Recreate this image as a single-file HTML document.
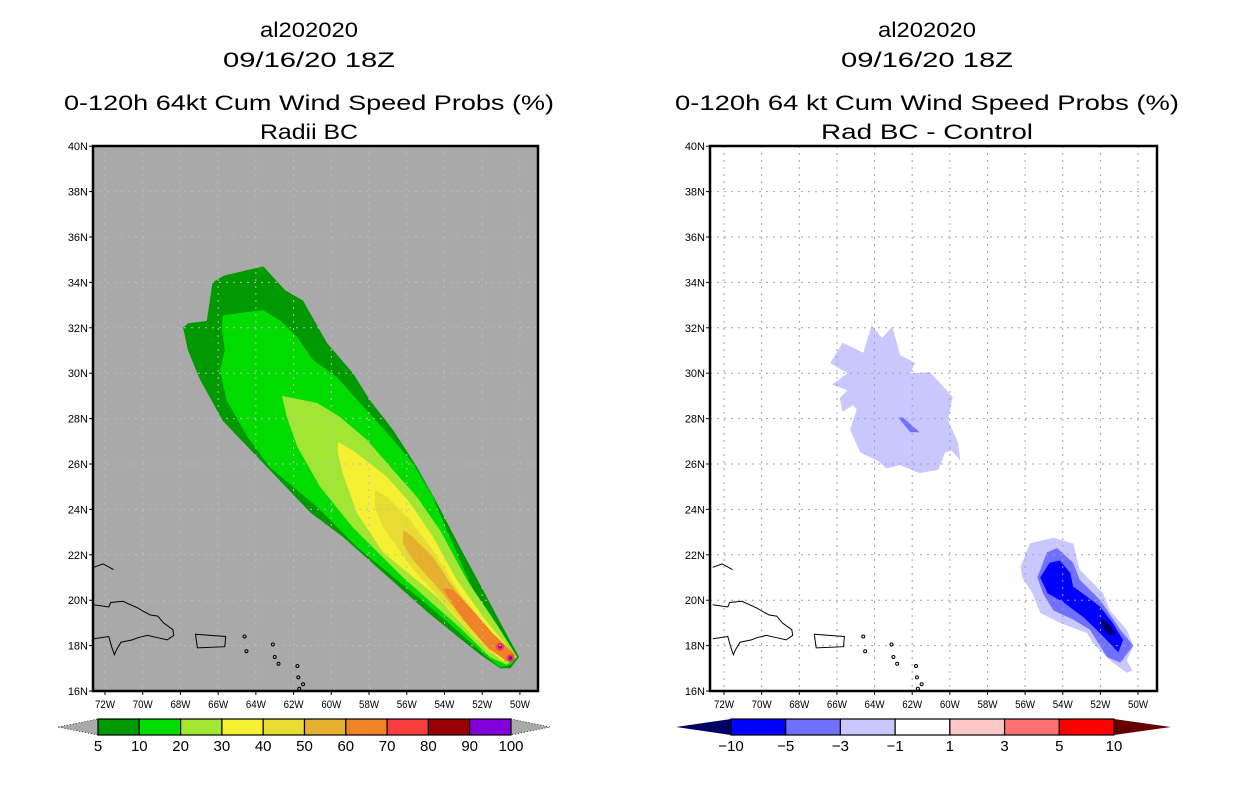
<!DOCTYPE html>
<html><head><meta charset="utf-8"><style>
html,body{margin:0;padding:0;background:#fff;}
svg{display:block;font-family:"Liberation Sans",sans-serif;}
</style></head><body>
<svg id="root" width="1236" height="800" viewBox="0 0 1236 800" xmlns="http://www.w3.org/2000/svg">
<rect width="1236" height="800" fill="#fff"/>
</svg>
<script>
// ---- data ----
const lonTicks=[-72,-70,-68,-66,-64,-62,-60,-58,-56,-54,-52,-50];
const latTicks=[16,18,20,22,24,26,28,30,32,34,36,38,40];
const leftLevels=["5","10","20","30","40","50","60","70","80","90","100"];
const leftColors=["#009900","#00dc00","#a0e632","#f5f032","#e6dc32","#e6af2d","#f08228","#fa3c3c","#960000","#8200dc"];
const rightLevels=["-10","-5","-3","-1","1","3","5","10"];
const rightColors=["#0000ff","#7070ff","#c8c8ff","#ffffff","#ffc8c8","#ff7070","#ff0000"];
const p5=[[-67.86,32.0],[-67.6,32.2],[-66.6,32.3],[-66.3,34.0],[-65.7,34.3],[-63.6,34.7],[-62.45,33.65],[-61.5,33.2],[-60.23,31.33],[-58.85,30.0],[-57.95,28.8],[-56.73,27.5],[-55.46,25.87],[-54.4,24.28],[-53.18,22.34],[-51.96,20.45],[-50.9,18.8],[-50.05,17.5],[-50.5,17.0],[-51.05,17.0],[-52.1,17.6],[-54.8,19.4],[-59.4,22.8],[-61.1,23.85],[-64.15,26.5],[-65.75,27.9],[-66.95,29.7],[-67.6,31.0]];
const p10=[[-65.75,32.55],[-64.85,32.65],[-63.62,32.78],[-62.72,32.34],[-61.82,31.6],[-60.97,30.58],[-59.7,29.83],[-58.48,28.69],[-57.05,27.37],[-55.67,26.04],[-54.61,24.55],[-53.87,23.09],[-52.49,20.45],[-51.6,19.4],[-50.15,17.5],[-50.5,17.15],[-51.05,17.05],[-51.95,17.65],[-54.4,19.45],[-58.65,22.35],[-60.75,24.1],[-63.25,25.85],[-64.45,27.2],[-65.55,28.8],[-65.9,30.15],[-65.65,31.0],[-65.8,32.0]];
const p20=[[-62.62,29.0],[-60.76,28.69],[-59.54,28.07],[-58.11,27.06],[-56.73,25.74],[-55.46,24.55],[-54.24,23.09],[-52.81,20.89],[-51.2,18.9],[-50.15,17.5],[-50.7,17.15],[-51.6,17.5],[-53.2,18.8],[-56.2,21.0],[-58.85,23.2],[-60.6,25.0],[-61.8,26.75],[-62.35,28.05]];
const p30=[[-59.65,26.97],[-58.85,26.6],[-57.05,25.43],[-55.83,24.28],[-54.61,22.78],[-53.34,20.89],[-51.8,19.1],[-50.35,17.65],[-50.9,17.3],[-52.3,18.25],[-54.4,20.15],[-57.25,22.1],[-58.65,23.85],[-59.4,25.6],[-59.65,26.5]];
const p40=[[-57.68,24.85],[-57.05,24.55],[-55.83,23.53],[-54.61,22.2],[-53.55,20.76],[-52.0,18.9],[-50.7,17.6],[-51.6,17.65],[-53.55,19.45],[-55.65,21.35],[-57.25,23.2],[-57.7,24.1]];
const p50=[[-56.2,23.09],[-55.67,22.78],[-54.61,21.9],[-53.71,20.76],[-51.8,18.75],[-50.9,17.65],[-51.6,17.8],[-53.0,19.15],[-54.4,20.6],[-55.65,21.75],[-56.2,22.5]];
const p60=[[-54.1,20.55],[-53.55,20.45],[-52.65,19.7],[-51.45,18.55],[-50.25,17.6],[-50.7,17.3],[-51.75,17.95],[-53.0,19.15],[-53.7,20.0]];
const peaks=[[-51.05,17.95],[-50.5,17.45]];
const d1a=[[-66.35,30.45],[-65.7,31.35],[-64.6,30.9],[-64.15,32.1],[-63.6,31.55],[-63.05,32.05],[-62.65,30.8],[-61.85,30.45],[-62.1,30.0],[-61.05,30.05],[-59.85,28.95],[-60.1,27.95],[-59.55,26.9],[-59.45,26.15],[-59.9,26.6],[-60.25,26.5],[-60.6,25.75],[-61.6,25.6],[-62.65,25.95],[-63.35,25.8],[-63.85,26.15],[-64.75,26.5],[-65.3,27.5],[-64.95,28.4],[-65.15,28.6],[-65.7,28.3],[-65.85,28.9],[-65.45,29.25],[-66.25,29.5],[-65.45,30.0]];
const d3a=[[-62.75,28.05],[-62.5,28.05],[-61.6,27.4],[-62.1,27.4]];
const d1b=[[-56.25,21.45],[-55.75,22.5],[-54.5,22.75],[-53.45,22.5],[-53.1,21.35],[-51.85,20.3],[-51.5,19.55],[-50.6,18.7],[-50.25,18.0],[-50.6,17.35],[-50.3,16.9],[-50.6,16.8],[-51.35,17.25],[-52.4,18.1],[-52.7,18.55],[-54.15,19.0],[-55.2,19.45],[-55.6,20.3],[-56.15,21.0]];
const d3b=[[-55.35,21.0],[-54.85,22.1],[-54.3,22.3],[-53.45,21.65],[-53.1,20.9],[-52.0,20.0],[-50.95,18.7],[-50.25,18.0],[-50.95,17.25],[-51.65,17.5],[-52.55,18.7],[-53.45,19.15],[-54.5,19.55],[-55.05,20.3]];
const d5b=[[-55.2,21.0],[-54.7,21.65],[-54.15,21.75],[-53.6,21.2],[-53.45,20.6],[-52.7,20.15],[-52.0,19.7],[-51.35,19.0],[-50.8,18.25],[-51.05,17.7],[-51.5,18.1],[-52.2,18.7],[-52.9,19.25],[-53.95,19.9],[-54.8,20.3]];
const d10b=[[-52.0,19.2],[-51.65,19.05],[-51.2,18.55],[-51.5,18.45],[-51.9,18.8]];
// coast outlines (lon,lat)
const hisp=[[-72.6,19.8],[-71.8,19.7],[-71.7,19.9],[-71.05,19.95],[-70.25,19.65],[-69.95,19.5],[-69.6,19.35],[-69.2,19.3],[-68.9,19.0],[-68.4,18.7],[-68.35,18.45],[-68.7,18.25],[-69.2,18.35],[-69.75,18.45],[-70.25,18.35],[-70.55,18.25],[-71.15,18.15],[-71.4,17.8],[-71.5,17.6],[-71.65,17.95],[-71.8,18.4],[-72.6,18.3]];
const prico=[[-67.2,18.5],[-65.6,18.4],[-65.65,17.95],[-67.1,17.9]];
const cuba=[[-72.6,21.45],[-72.1,21.6],[-71.55,21.35]];
const isles=[[-64.6,18.4],[-64.5,17.75],[-63.1,18.05],[-63.0,17.5],[-62.8,17.2],[-61.8,17.1],[-61.75,16.6],[-61.5,16.3],[-61.7,16.1]];

// ---- helpers ----
const NS="http://www.w3.org/2000/svg";
const root=document.getElementById('root');
function mk(tag,attrs,parent){const e=document.createElementNS(NS,tag);for(const k in attrs)e.setAttribute(k,attrs[k]);(parent||root).appendChild(e);return e;}
function makePanel(x0,pxPerLon,name){
  const xs=lon=>x0+(lon+72)*pxPerLon;
  const ys=lat=>691-(lat-16)*22.7;
  const g=mk('g',{});
  
  
  return {xs,ys,g};
}
function poly(P,pts,fill,name){
  const e=mk('polygon',{points:pts.map(p=>P.xs(p[0]).toFixed(1)+','+P.ys(p[1]).toFixed(1)).join(' '),fill:fill},P.g);
  
  
  return e;
}
function line(P,pts,name,closed){
  const e=mk(closed?'polygon':'polyline',{points:pts.map(p=>P.xs(p[0]).toFixed(1)+','+P.ys(p[1]).toFixed(1)).join(' '),fill:'none',stroke:'#000','stroke-width':1},P.g);
  
  
}
function text(x,y,s,size,anchor,name,len,parent){
  const e=mk('text',{x:x,y:y,'font-size':size,'text-anchor':anchor||'middle',fill:'#000'},parent);
  if(len){e.setAttribute('textLength',len);e.setAttribute('lengthAdjust','spacingAndGlyphs');}
  e.textContent=s;
  
  
  return e;
}
function frame(P,x0,x1,bg,gridColor){
  const bgr=mk('rect',{x:x0,y:146,width:x1-x0,height:545,fill:bg},P.g);
  
  
  return ()=>{
    lonTicks.forEach(l=>{const x=P.xs(l);const e=mk('line',{x1:x,x2:x,y1:146,y2:691,stroke:gridColor,'stroke-dasharray':'2,5'},P.g);
      });
    latTicks.slice(1,-1).forEach(l=>{const y=P.ys(l);const e=mk('line',{x1:x0,x2:x1,y1:y,y2:y,stroke:gridColor,'stroke-dasharray':'2,5'},P.g);
      });
    line(P,hisp,'coast-hispaniola',false);
    line(P,prico,'coast-puerto-rico',true);
    line(P,cuba,'coast-bahamas',false);
    isles.forEach(p=>{const e=mk('circle',{cx:P.xs(p[0]),cy:P.ys(p[1]),r:1.5,fill:'none',stroke:'#000'},P.g);
      });
    const fr=mk('rect',{x:x0,y:146,width:x1-x0,height:545,fill:'none',stroke:'#000','stroke-width':2.5},P.g);
    
    lonTicks.forEach(l=>{const x=P.xs(l);mk('line',{x1:x,x2:x,y1:691,y2:695,stroke:'#000'},P.g);
      text(x,708,(-l)+'W',11,'middle','x-tick-label',20,P.g);});
    latTicks.forEach(l=>{const y=P.ys(l);mk('line',{x1:x0-4,x2:x0,y1:y,y2:y,stroke:'#000'},P.g);
      text(x0-5,y+4,l+'N',11,'end','y-tick-label',null,P.g);});
  };
}
// ---- left panel ----
const L=makePanel(105,18.86,'left-map');
const finL=frame(L,93,538,'#a9a9a9','#bcbcbc');
poly(L,p5,leftColors[0],'contour-5');
poly(L,p10,leftColors[1],'contour-10');
poly(L,p20,leftColors[2],'contour-20');
poly(L,p30,leftColors[3],'contour-30');
poly(L,p40,leftColors[4],'contour-40');
poly(L,p50,leftColors[5],'contour-50');
poly(L,p60,leftColors[6],'contour-60');
peaks.forEach(p=>{
  const a=mk('circle',{cx:L.xs(p[0]),cy:L.ys(p[1]),r:4,fill:leftColors[7]},L.g);
  
  const b=mk('circle',{cx:L.xs(p[0]),cy:L.ys(p[1]),r:1.8,fill:leftColors[9]},L.g);
  
});
finL();
// ---- right panel ----
const R=makePanel(724,18.82,'right-map');
const finR=frame(R,710,1157,'#ffffff','#a0a0a0');
poly(R,d1a,rightColors[2],'diff-neg1-north');
poly(R,d3a,rightColors[1],'diff-neg3-north');
poly(R,d1b,rightColors[2],'diff-neg1-south');
poly(R,d3b,rightColors[1],'diff-neg3-south');
poly(R,d5b,rightColors[0],'diff-neg5-south');
poly(R,d10b,'#000064','diff-neg10-south');
finR();
// ---- titles ----
text(309,37,'al202020',21,'middle','left-title-storm',98);
text(309,67,'09/16/20 18Z',21,'middle','left-title-date',172);
text(309,110,'0-120h 64kt Cum Wind Speed Probs (%)',21,'middle','left-title-main',490);
text(309,139,'Radii BC',21,'middle','left-subtitle',98);
text(927,37,'al202020',21,'middle','right-title-storm',98);
text(927,67,'09/16/20 18Z',21,'middle','right-title-date',172);
text(927,110,'0-120h 64 kt Cum Wind Speed Probs (%)',21,'middle','right-title-main',504);
text(927,139,'Rad BC - Control',21,'middle','right-subtitle',212);
// ---- colorbars ----
function colorbar(x0,x1,tipL,tipR,colors,levels,lowColor,highColor,name,dashTips){
  const g=mk('g',{});
  
  
  const y0=719,y1=735,ym=727;
  const tl=mk('polygon',{points:`${tipL},${ym} ${x0},${y0} ${x0},${y1}`,fill:lowColor,stroke:dashTips?'#000':'none','stroke-dasharray':'1,2','stroke-width':0.7},g);
  
  const tr=mk('polygon',{points:`${tipR},${ym} ${x1},${y0} ${x1},${y1}`,fill:highColor,stroke:dashTips?'#000':'none','stroke-dasharray':'1,2','stroke-width':0.7},g);
  
  const w=(x1-x0)/colors.length;
  colors.forEach((c,i)=>{
    const r=mk('rect',{x:x0+i*w,y:y0,width:w,height:y1-y0,fill:c,stroke:'#000','stroke-width':1.2},g);
    
  });
  levels.forEach((s,i)=>{
    text(x0+i*w,751,s.replace('-','\u2212'),15,'middle','colorbar-label',null,g);
  });
}
colorbar(98,511,58,550,leftColors,leftLevels,'#a9a9a9','#a9a9a9','left-colorbar',true);
colorbar(731,1114,676,1171,rightColors,rightLevels,'#000064','#640000','right-colorbar',false);
</script>
</body></html>
